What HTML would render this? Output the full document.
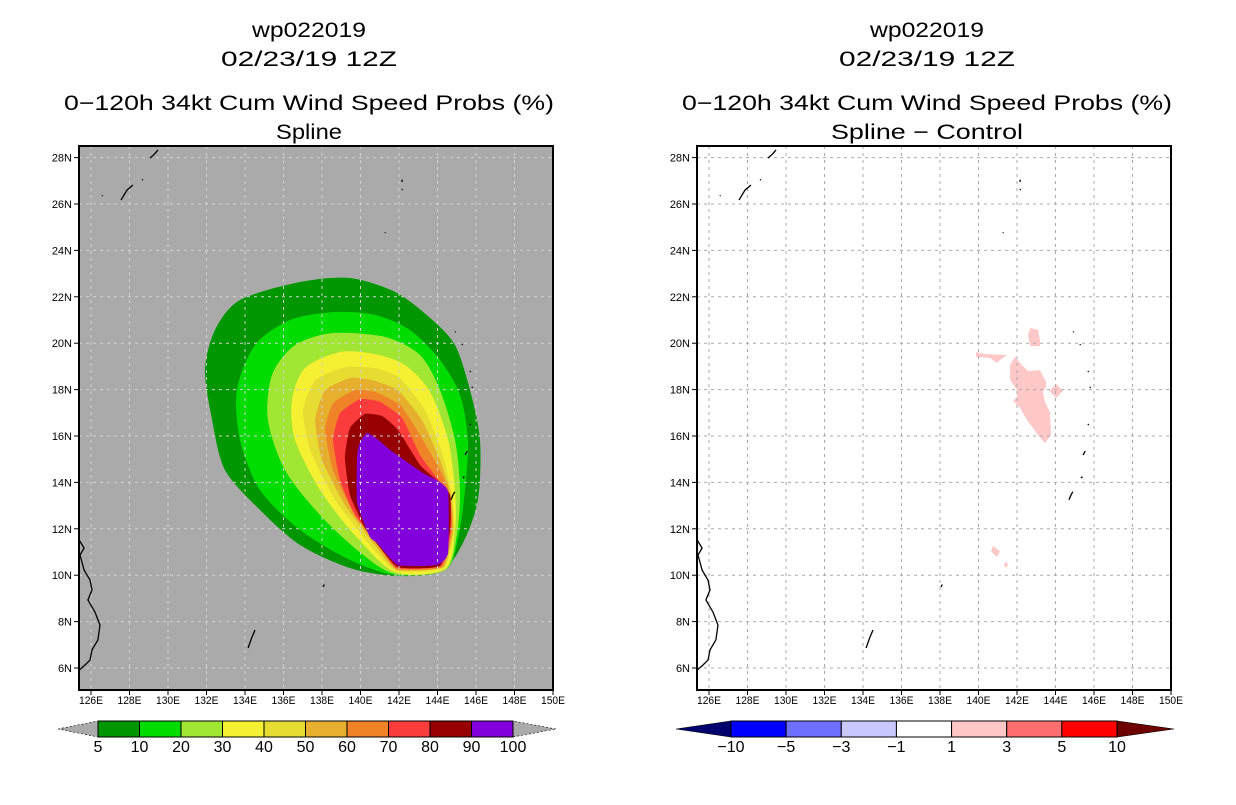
<!DOCTYPE html>
<html><head><meta charset="utf-8"><style>
html,body{margin:0;padding:0;background:#fff;}
svg text{font-family:"Liberation Sans",sans-serif;fill:#000;}
</style></head><body>
<svg id="chart" width="1236" height="800" viewBox="0 0 1236 800" xmlns="http://www.w3.org/2000/svg">
<g id="root"></g>
</svg>
<script>
// ---- data ----
const lonTicks=[126,128,130,132,134,136,138,140,142,144,146,148,150];
const latTicks=[6,8,10,12,14,16,18,20,22,24,26,28];
const probLevels=[5,10,20,30,40,50,60,70,80,90,100];
const probColors=['#009600','#00dc00','#a0e632','#f5f032','#e6dc32','#e6af2d','#f08228','#fa3c3c','#960000','#8200dc'];
const diffLevels=['-10','-5','-3','-1','1','3','5','10'];
const diffColors=['#0000ff','#6e6eff','#c8c8ff','#ffffff','#ffc8c8','#ff6e6e','#ff0000'];
const diffTipLow='#00006e', diffTipHigh='#6e0000';
// probability contours (lon,lat) for >=5 ... >=90
const p5=[[139.45,22.81],[136.86,22.64],[133.74,21.86],[132.44,20.57],[131.92,18.84],[132.29,16.69],[132.96,14.53],[134.78,12.81],[136.86,11.30],[139.45,10.31],[141.79,9.97],[144.13,10.14],[145.27,11.30],[146.10,13.24],[146.21,15.83],[145.69,17.98],[144.91,19.92],[143.61,21.09],[141.79,22.21]];
const p10=[[138.57,21.34],[136.34,21.00],[134.52,19.92],[133.58,17.98],[133.74,15.83],[134.78,13.67],[136.86,11.95],[139.45,10.66],[141.79,10.01],[144.39,10.22],[145.06,11.52],[145.43,13.67],[145.58,15.83],[145.17,17.77],[144.13,19.28],[142.57,20.57],[140.75,21.22]];
const p20=[[138.57,20.44],[136.60,19.92],[135.40,18.63],[135.19,16.69],[136.08,14.53],[137.90,12.59],[139.97,10.99],[141.79,10.05],[144.39,10.22],[145.01,11.73],[145.17,13.67],[144.91,15.83],[144.13,17.98],[143.09,19.49],[141.27,20.27]];
const p30=[[138.94,19.62],[137.12,18.93],[136.44,17.55],[136.60,15.83],[137.90,13.67],[139.71,11.73],[141.79,10.14],[144.39,10.27],[144.91,11.95],[144.91,13.67],[144.55,15.83],[143.61,17.90],[142.31,19.06],[140.75,19.53]];
const p40=[[139.19,18.97],[137.64,18.41],[137.01,17.12],[137.38,15.40],[138.68,13.24],[140.49,11.30],[141.84,10.18],[144.34,10.31],[144.86,11.95],[144.75,13.46],[144.23,15.31],[143.35,17.12],[142.05,18.50],[140.75,18.93]];
const p50=[[139.45,18.50],[138.16,17.98],[137.64,16.69],[138.00,14.97],[139.19,13.03],[140.75,11.30],[141.90,10.22],[144.29,10.35],[144.81,11.95],[144.70,13.46],[144.13,14.97],[143.19,16.69],[141.95,17.98],[140.60,18.41]];
const p60=[[139.71,17.98],[138.57,17.42],[138.16,16.26],[138.57,14.53],[139.56,12.81],[140.91,11.30],[141.90,10.27],[144.23,10.35],[144.75,11.95],[144.65,13.46],[144.13,14.53],[143.09,16.04],[142.05,17.34],[140.75,17.90]];
const p70=[[139.97,17.59],[138.94,16.99],[138.57,15.83],[138.94,14.10],[139.71,12.59],[140.91,11.39],[141.90,10.31],[144.18,10.40],[144.70,11.95],[144.65,13.37],[143.97,14.19],[143.09,15.18],[142.16,16.78],[141.01,17.47]];
const p80=[[140.23,16.95],[139.45,16.34],[139.19,15.09],[139.45,13.46],[140.23,12.03],[140.91,11.30],[141.95,10.35],[144.13,10.40],[144.65,11.95],[144.65,13.46],[143.97,14.10],[143.09,14.75],[141.95,16.26],[141.12,16.86]];
const p90=[[140.34,16.13],[140.90,15.85],[141.53,15.40],[143.25,14.40],[143.97,14.10],[144.55,13.59],[144.55,10.96],[143.97,10.44],[141.95,10.44],[140.86,11.39],[140.49,11.65],[139.82,13.11],[139.82,15.09],[139.98,15.75]];
const probContours=[p5,p10,p20,p30,p40,p50,p60,p70,p80,p90];
// spline - control difference patches (1..3 %)
const d1=[[141.90,19.41],[142.26,19.06],[142.57,18.80],[143.19,18.84],[143.51,18.33],[143.51,18.11],[143.35,17.90],[143.45,17.47],[143.71,17.03],[143.77,16.04],[143.45,15.70],[143.09,16.04],[142.52,16.69],[142.16,17.21],[141.79,17.51],[142.00,17.68],[142.00,17.98],[141.64,18.41],[141.64,19.06]];
const d2=[[142.68,20.66],[143.09,20.57],[143.19,20.14],[143.19,19.88],[142.68,19.88],[142.57,20.35]];
const d3=[[139.87,19.62],[140.34,19.53],[141.48,19.49],[141.12,19.28],[140.96,19.15],[140.60,19.36],[139.87,19.41]];
const d4=[[143.68,17.94],[144.03,18.24],[144.38,17.94],[144.03,17.64]];
const d5=[[140.75,11.26],[141.12,11.04],[140.96,10.78],[140.65,11.04]];
const d6=[[141.43,10.61],[141.53,10.44],[141.43,10.31],[141.32,10.44]];
const diffPatches=[d1,d2,d3,d4,d5,d6];
// coastlines
const coasts=[
 [[125.38,11.52],[125.64,11.17],[125.43,10.87],[125.64,10.22],[125.95,9.79],[126.05,9.36],[125.84,8.93],[126.21,8.41],[126.47,7.85],[126.36,7.21],[126.05,6.78],[125.95,6.34],[125.69,6.13],[125.38,5.91]],
 [[127.56,26.17],[127.87,26.60],[128.18,26.82]],
 [[129.06,27.98],[129.30,28.15],[129.48,28.33]],
 [[126.57,26.34],[126.60,26.37]],[[128.65,27.03],[128.70,27.06]],
 [[141.27,24.75],[141.30,24.78]],[[142.16,26.95],[142.16,27.05]],[[142.16,26.60],[142.18,26.65]],
 [[144.91,20.48],[144.95,20.50]],[[145.27,19.92],[145.30,19.96]],[[145.69,18.76],[145.72,18.80]],[[145.79,18.07],[145.82,18.12]],
 [[145.69,16.47],[145.72,16.52]],[[145.43,15.18],[145.55,15.35]],[[145.32,14.19],[145.40,14.25]],
 [[144.70,13.25],[144.80,13.45],[144.90,13.60]],
 [[138.05,9.49],[138.12,9.60]],[[134.16,6.86],[134.35,7.30],[134.52,7.64]]
];
// ---- drawing ----
const NS='http://www.w3.org/2000/svg';
const root=document.getElementById('root');
function mk(tag,attrs,parent){const e=document.createElementNS(NS,tag);for(const k in attrs)e.setAttribute(k,attrs[k]);(parent||root).appendChild(e);return e;}
const X0=79,X1=553,Y0=146,Y1=690;
function xs(lon,off){return 91+(lon-126)*19.25+off;}
function ys(lat){return 668-(lat-6)*23.2;}
function pts(arr,off){return arr.map(p=>xs(p[0],off).toFixed(1)+','+ys(p[1]).toFixed(1)).join(' ');}
function smooth(arr,off,k){
  const P=arr.map(p=>[xs(p[0],off),ys(p[1])]);const n=P.length;
  let d='M'+P[0][0].toFixed(1)+','+P[0][1].toFixed(1);
  for(let i=0;i<n;i++){const p0=P[(i-1+n)%n],p1=P[i],p2=P[(i+1)%n],p3=P[(i+2)%n];
    const c1=[p1[0]+(p2[0]-p0[0])*k,p1[1]+(p2[1]-p0[1])*k];
    const c2=[p2[0]-(p3[0]-p1[0])*k,p2[1]-(p3[1]-p1[1])*k];
    d+=' C'+c1[0].toFixed(1)+','+c1[1].toFixed(1)+' '+c2[0].toFixed(1)+','+c2[1].toFixed(1)+' '+p2[0].toFixed(1)+','+p2[1].toFixed(1);}
  return d+'Z';
}
function txt(s,x,y,size,anchor,len,parent){const t=mk('text',{x:x,y:y,'font-size':size,'text-anchor':anchor||'middle'},parent);if(len){t.setAttribute('textLength',len);t.setAttribute('lengthAdjust','spacingAndGlyphs');}t.textContent=s;return t;}

function panel(off,isLeft,sub){
  const g=mk('g',{});
  
  
  const cx=off+309;
  const t1=txt('wp022019',cx,37,21,'middle',114,g);
  const t2=txt('02/23/19 12Z',cx,66,21,'middle',176,g);
  const t3=txt('0\u2212120h 34kt Cum Wind Speed Probs (%)',cx,110,21,'middle',490,g);
  const t4=txt(sub,cx,139,21,'middle',isLeft?66:192,g);
  const clip=mk('clipPath',{id:'clip'+off},g);mk('rect',{x:X0+off,y:Y0,width:X1-X0,height:Y1-Y0},clip);
  const map=mk('g',{'clip-path':'url(#clip'+off+')'},g);
  
  const bg=mk('rect',{x:X0+off,y:Y0,width:X1-X0,height:Y1-Y0,fill:isLeft?'#aaaaaa':'#ffffff'},map);
  
  if(isLeft){
    probContours.forEach((c,i)=>{const p=mk('path',{d:smooth(c,off,i<4?0.14:0.08),fill:probColors[i]},map);
      
      });
  } else {
    diffPatches.forEach((c,i)=>{const p=mk('polygon',{points:pts(c,off),fill:diffColors[4]},map);
      
      });
  }
  const gc=isLeft?'#d2d2d2':'#aaaaaa';
  lonTicks.forEach(l=>{const x=xs(l,off);if(x>X0+off&&x<X1+off){const ln=mk('line',{x1:x,x2:x,y1:Y0,y2:Y1,stroke:gc,'stroke-width':1,'stroke-dasharray':'3,4'},map);
    
    }});
  latTicks.forEach(l=>{const y=ys(l);const ln=mk('line',{x1:X0+off,x2:X1+off,y1:y,y2:y,stroke:gc,'stroke-width':1,'stroke-dasharray':'3,4'},map);
    
    });
  coasts.forEach(c=>{const pl=mk('polyline',{points:pts(c,off),fill:'none',stroke:'#000','stroke-width':1.3},map);
    
    });
  const fr=mk('rect',{x:X0+off,y:Y0,width:X1-X0,height:Y1-Y0,fill:'none',stroke:'#000','stroke-width':2},g);
  
  lonTicks.forEach(l=>{const x=xs(l,off);
    mk('line',{x1:x,x2:x,y1:Y1,y2:Y1+5,stroke:'#000','stroke-width':1},g);
    const t=txt(l+'E',x,Y1+14,11,'middle',24,g);
    
    });
  latTicks.forEach(l=>{const y=ys(l);
    mk('line',{x1:X0+off-5,x2:X0+off,y1:y,y2:y,stroke:'#000','stroke-width':1},g);
    const t=txt(l+'N',X0+off-7,y+4,11,'end',null,g);
    
    });
}
panel(0,true,'Spline');
panel(618,false,'Spline \u2212 Control');

// left colorbar
(function(){
  const g=mk('g',{});
  const L=98,R=513,T=721,B=737,w=(R-L)/probColors.length;
  mk('polygon',{points:`58,729 ${L},${T} ${L},${B}`,fill:'#aaaaaa',stroke:'#000','stroke-width':0.6,'stroke-dasharray':'2,2'},g);
  mk('polygon',{points:`556,729 ${R},${T} ${R},${B}`,fill:'#aaaaaa',stroke:'#000','stroke-width':0.6,'stroke-dasharray':'2,2'},g);
  probColors.forEach((c,i)=>{const r=mk('rect',{x:L+i*w,y:T,width:w,height:B-T,fill:c,stroke:'#000','stroke-width':1},g);
    
    });
  probLevels.forEach((v,i)=>{const t=txt(String(v),L+i*w,752,16,'middle',null,g);
    
    });
})();
// right colorbar
(function(){
  const g=mk('g',{});
  const L=731,R=1117,T=721,B=737,w=(R-L)/diffColors.length;
  mk('polygon',{points:`676,729 ${L},${T} ${L},${B}`,fill:diffTipLow,stroke:'#000','stroke-width':0.6},g);
  mk('polygon',{points:`1174,729 ${R},${T} ${R},${B}`,fill:diffTipHigh,stroke:'#000','stroke-width':0.6},g);
  diffColors.forEach((c,i)=>{const r=mk('rect',{x:L+i*w,y:T,width:w,height:B-T,fill:c,stroke:'#000','stroke-width':1},g);
    
    });
  diffLevels.forEach((v,i)=>{const t=txt(v.replace('-','\u2212'),L+i*w,752,16,'middle',null,g);
    
    });
})();
</script>
</body></html>
